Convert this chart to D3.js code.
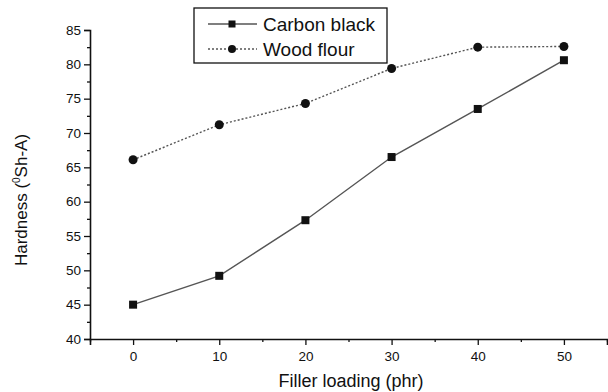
<!DOCTYPE html>
<html>
<head>
<meta charset="utf-8">
<script src="https://cdn.jsdelivr.net/npm/d3@7"></script>
<style>
  body { margin: 0; background: #fff; }
  svg { display: block; font-family: "Liberation Sans", Arial, sans-serif; }
</style>
</head>
<body>
<svg id="chart" width="608" height="392"></svg>
<script>
// data
const loading = [0, 10, 20, 30, 40, 50];
const carbonBlack = [45.0, 49.2, 57.3, 66.5, 73.5, 80.6];
const woodFlour = [66.1, 71.2, 74.3, 79.4, 82.5, 82.6];
const xTicks = [0, 10, 20, 30, 40, 50];
const yTicks = [40, 45, 50, 55, 60, 65, 70, 75, 80, 85];

const svg = d3.select('#chart');
const ink = '#111';
const lineCol = '#555';

const x = d3.scaleLinear().domain([-5, 55]).range([90, 607]);
const y = d3.scaleLinear().domain([40, 85]).range([339, 30]);

// axes: major + minor ticks
const yMinor = d3.range(42.5, 85, 5);
const xMinor = d3.range(-5, 56, 10);

const gy = svg.append('g').attr('transform', 'translate(' + x(-5) + ',0)');
gy.call(d3.axisLeft(y).tickValues(yTicks).tickSize(6).tickPadding(3).tickFormat(d3.format('d')));
gy.append('g').call(d3.axisLeft(y).tickValues(yMinor).tickSize(3).tickFormat(''))
  .select('.domain').remove();

const gx = svg.append('g').attr('transform', 'translate(0,' + y(40) + ')');
gx.call(d3.axisBottom(x).tickValues(xTicks).tickSize(6).tickPadding(6).tickFormat(d3.format('d')));
gx.append('g').call(d3.axisBottom(x).tickValues(xMinor).tickSize(3).tickFormat(''))
  .select('.domain').remove();

svg.selectAll('.domain').attr('stroke', ink).attr('stroke-width', 1.6);
svg.selectAll('.tick line').attr('stroke', ink).attr('stroke-width', 1.3);
svg.selectAll('.tick text').attr('fill', ink).style('font-size', '13.5px');

// axis titles
svg.append('text')
  .attr('x', 351).attr('y', 387)
  .attr('text-anchor', 'middle')
  .style('font-size', '18px').attr('fill', ink)
  .text('Filler loading (phr)');

const yt = svg.append('text')
  .attr('transform', 'translate(27,200) rotate(-90)')
  .attr('text-anchor', 'middle')
  .style('font-size', '17px').attr('fill', ink);
yt.append('tspan').text('Hardness (');
yt.append('tspan').attr('dy', -7).style('font-size', '10px').text('0');
yt.append('tspan').attr('dy', 7).text('Sh-A)');

// series
const line = d3.line().x((d, i) => x(loading[i])).y(d => y(d));

svg.append('path').datum(woodFlour)
  .attr('d', line).attr('fill', 'none')
  .attr('stroke', lineCol).attr('stroke-width', 1.4)
  .attr('stroke-dasharray', '2,2');

svg.append('path').datum(carbonBlack)
  .attr('d', line).attr('fill', 'none')
  .attr('stroke', lineCol).attr('stroke-width', 1.4);

svg.selectAll('.sq').data(carbonBlack).enter().append('rect')
  .attr('x', (d, i) => x(loading[i]) - 4)
  .attr('y', d => y(d) - 4)
  .attr('width', 8).attr('height', 8)
  .attr('fill', ink);

svg.selectAll('.dot').data(woodFlour).enter().append('circle')
  .attr('cx', (d, i) => x(loading[i]))
  .attr('cy', d => y(d))
  .attr('r', 4.5)
  .attr('fill', ink);

// legend
const lg = svg.append('g');
lg.append('rect')
  .attr('x', 194).attr('y', 8).attr('width', 193).attr('height', 55)
  .attr('fill', '#fff').attr('stroke', ink).attr('stroke-width', 1.3);

const items = [
  { name: 'Carbon black', dash: null, mark: 'sq' },
  { name: 'Wood flour', dash: '2,2', mark: 'dot' }
];
items.forEach((it, i) => {
  const cy = 24 + i * 25;
  lg.append('line')
    .attr('x1', 208).attr('x2', 257).attr('y1', cy).attr('y2', cy)
    .attr('stroke', lineCol).attr('stroke-width', 1.4)
    .attr('stroke-dasharray', it.dash);
  if (it.mark === 'sq') {
    lg.append('rect').attr('x', 228.5).attr('y', cy - 3.5).attr('width', 7).attr('height', 7).attr('fill', ink);
  } else {
    lg.append('circle').attr('cx', 232).attr('cy', cy).attr('r', 4).attr('fill', ink);
  }
  lg.append('text')
    .attr('x', 263).attr('y', cy + 6.5)
    .style('font-size', '19px').attr('fill', ink)
    .text(it.name);
});
</script>
</body>
</html>
